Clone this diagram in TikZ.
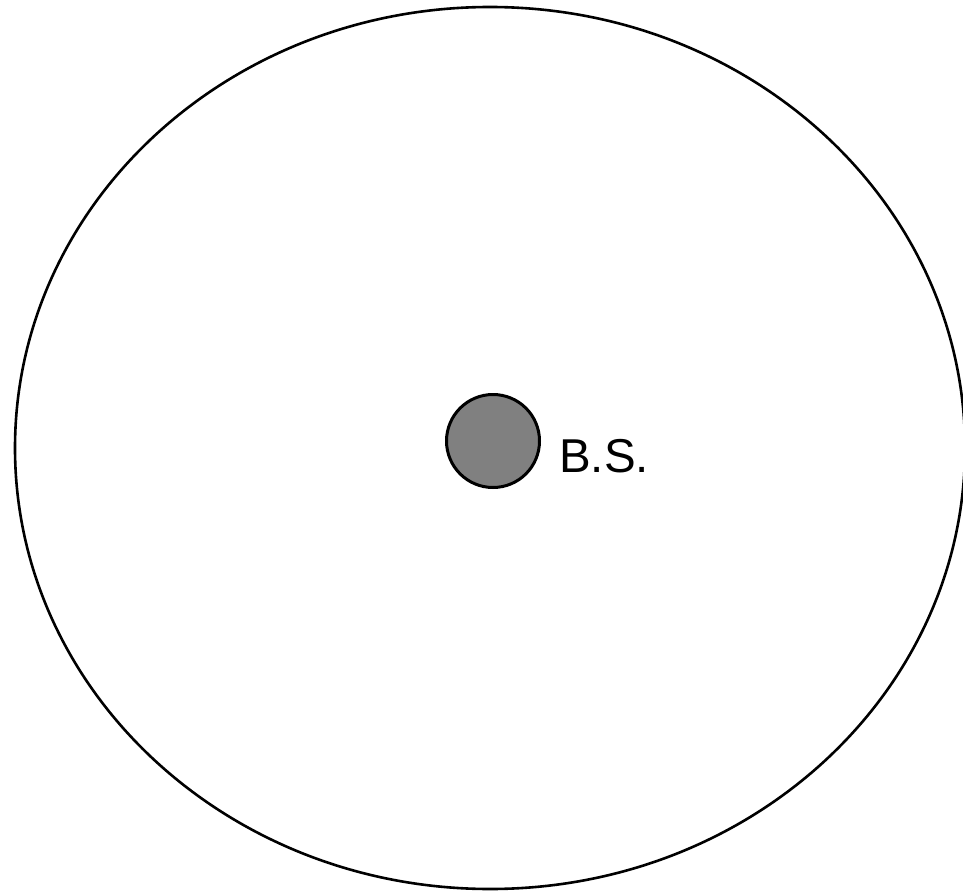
\documentclass[tikz,border=0pt]{standalone}
\usepackage{fontspec}
\setmainfont{Liberation Sans}
\begin{document}
\begin{tikzpicture}[x=1pt,y=-1pt,
  cell/.style={draw=black,line width=2.6pt},
  station/.style={circle,draw=black,fill={rgb,255:red,128;green,128;blue,128},line width=3pt,minimum size=93pt,inner sep=0pt},
  lbl/.style={inner sep=0pt,font=\fontsize{47.5}{57}\selectfont}]
\useasboundingbox (0,0) rectangle (963,893);
\draw[cell] (490,448) ellipse [x radius=475, y radius=441];
\node[station] (bs) at (493,441) {};
\node[lbl,anchor=base west] (bslabel) at (559,472) {B.S.};
\end{tikzpicture}
\end{document}
